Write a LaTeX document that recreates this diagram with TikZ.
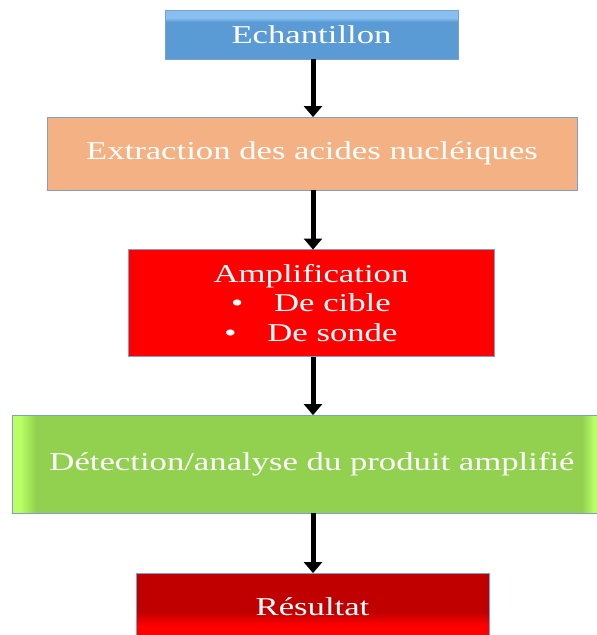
\documentclass[tikz,border=0pt]{standalone}
\usepackage{fontspec}
\setmainfont[FakeStretch=1.35]{Liberation Serif}
\usetikzlibrary{arrows.meta}
\definecolor{bluemain}{RGB}{91,155,213}
\definecolor{bluelight}{RGB}{135,192,240}
\definecolor{salmon}{RGB}{244,177,131}
\definecolor{greenmain}{RGB}{146,208,80}
\definecolor{greenlight}{RGB}{185,255,100}
\definecolor{reddark}{RGB}{192,0,0}
\definecolor{redbright}{RGB}{255,0,0}
\definecolor{edgeblue}{RGB}{126,160,200}
\pgfdeclareverticalshading{blueband}{100bp}{color(0bp)=(bluemain); color(63bp)=(bluemain); color(67bp)=(bluelight); color(100bp)=(bluelight)}
\pgfdeclarehorizontalshading{greenband}{100bp}{color(0bp)=(greenlight); color(25.7bp)=(greenlight); color(27bp)=(greenmain); color(72.5bp)=(greenmain); color(73.5bp)=(greenlight); color(100bp)=(greenlight)}
\pgfdeclareverticalshading{redband}{100bp}{color(0bp)=(redbright); color(36bp)=(redbright); color(46bp)=(reddark); color(100bp)=(reddark)}
\tikzset{
  stepbox/.style={draw=edgeblue, line width=0.8pt, text=white, align=center,
    font=\fontsize{25.7}{29.5}\selectfont, inner sep=0pt},
  flowarrow/.style={draw=black, line width=5pt,
    -{Triangle[width=18pt,length=11pt]}, shorten >=-0.5pt},
}

\begin{document}
\begin{tikzpicture}[x=1pt,y=-1pt]
\useasboundingbox (0,0) rectangle (597,635);
\node[stepbox, shading=blueband, minimum width=293pt, minimum height=49pt] (echant) at (311.500,34.500) {Echantillon};
\node[stepbox, fill=salmon, minimum width=530pt, minimum height=73pt] (extract) at (312.000,153.500) {Extraction des acides nucléiques};
\node[stepbox, fill=redbright, minimum width=366pt, minimum height=107pt] (ampli) at (311.000,303.000) {Amplification\\•\hspace{1.2em}De cible\\•\hspace{1.2em}De sonde};
\node[stepbox, shading=greenband, minimum width=600pt, minimum height=98pt] (detect) at (312.000,464.000) {Détection/analyse du produit amplifié};
\node[stepbox, shading=redband, minimum width=353pt, minimum height=67pt] (result) at (312.500,606.500) {Résultat};
\draw[flowarrow] (echant.south -| 313,0) -- (extract.north -| 313,0);
\draw[flowarrow] (extract.south -| 313,0) -- (ampli.north -| 313,0);
\draw[flowarrow] (ampli.south -| 313,0) -- (detect.north -| 313,0);
\draw[flowarrow] (detect.south -| 313,0) -- (result.north -| 313,0);
\end{tikzpicture}
\end{document}
